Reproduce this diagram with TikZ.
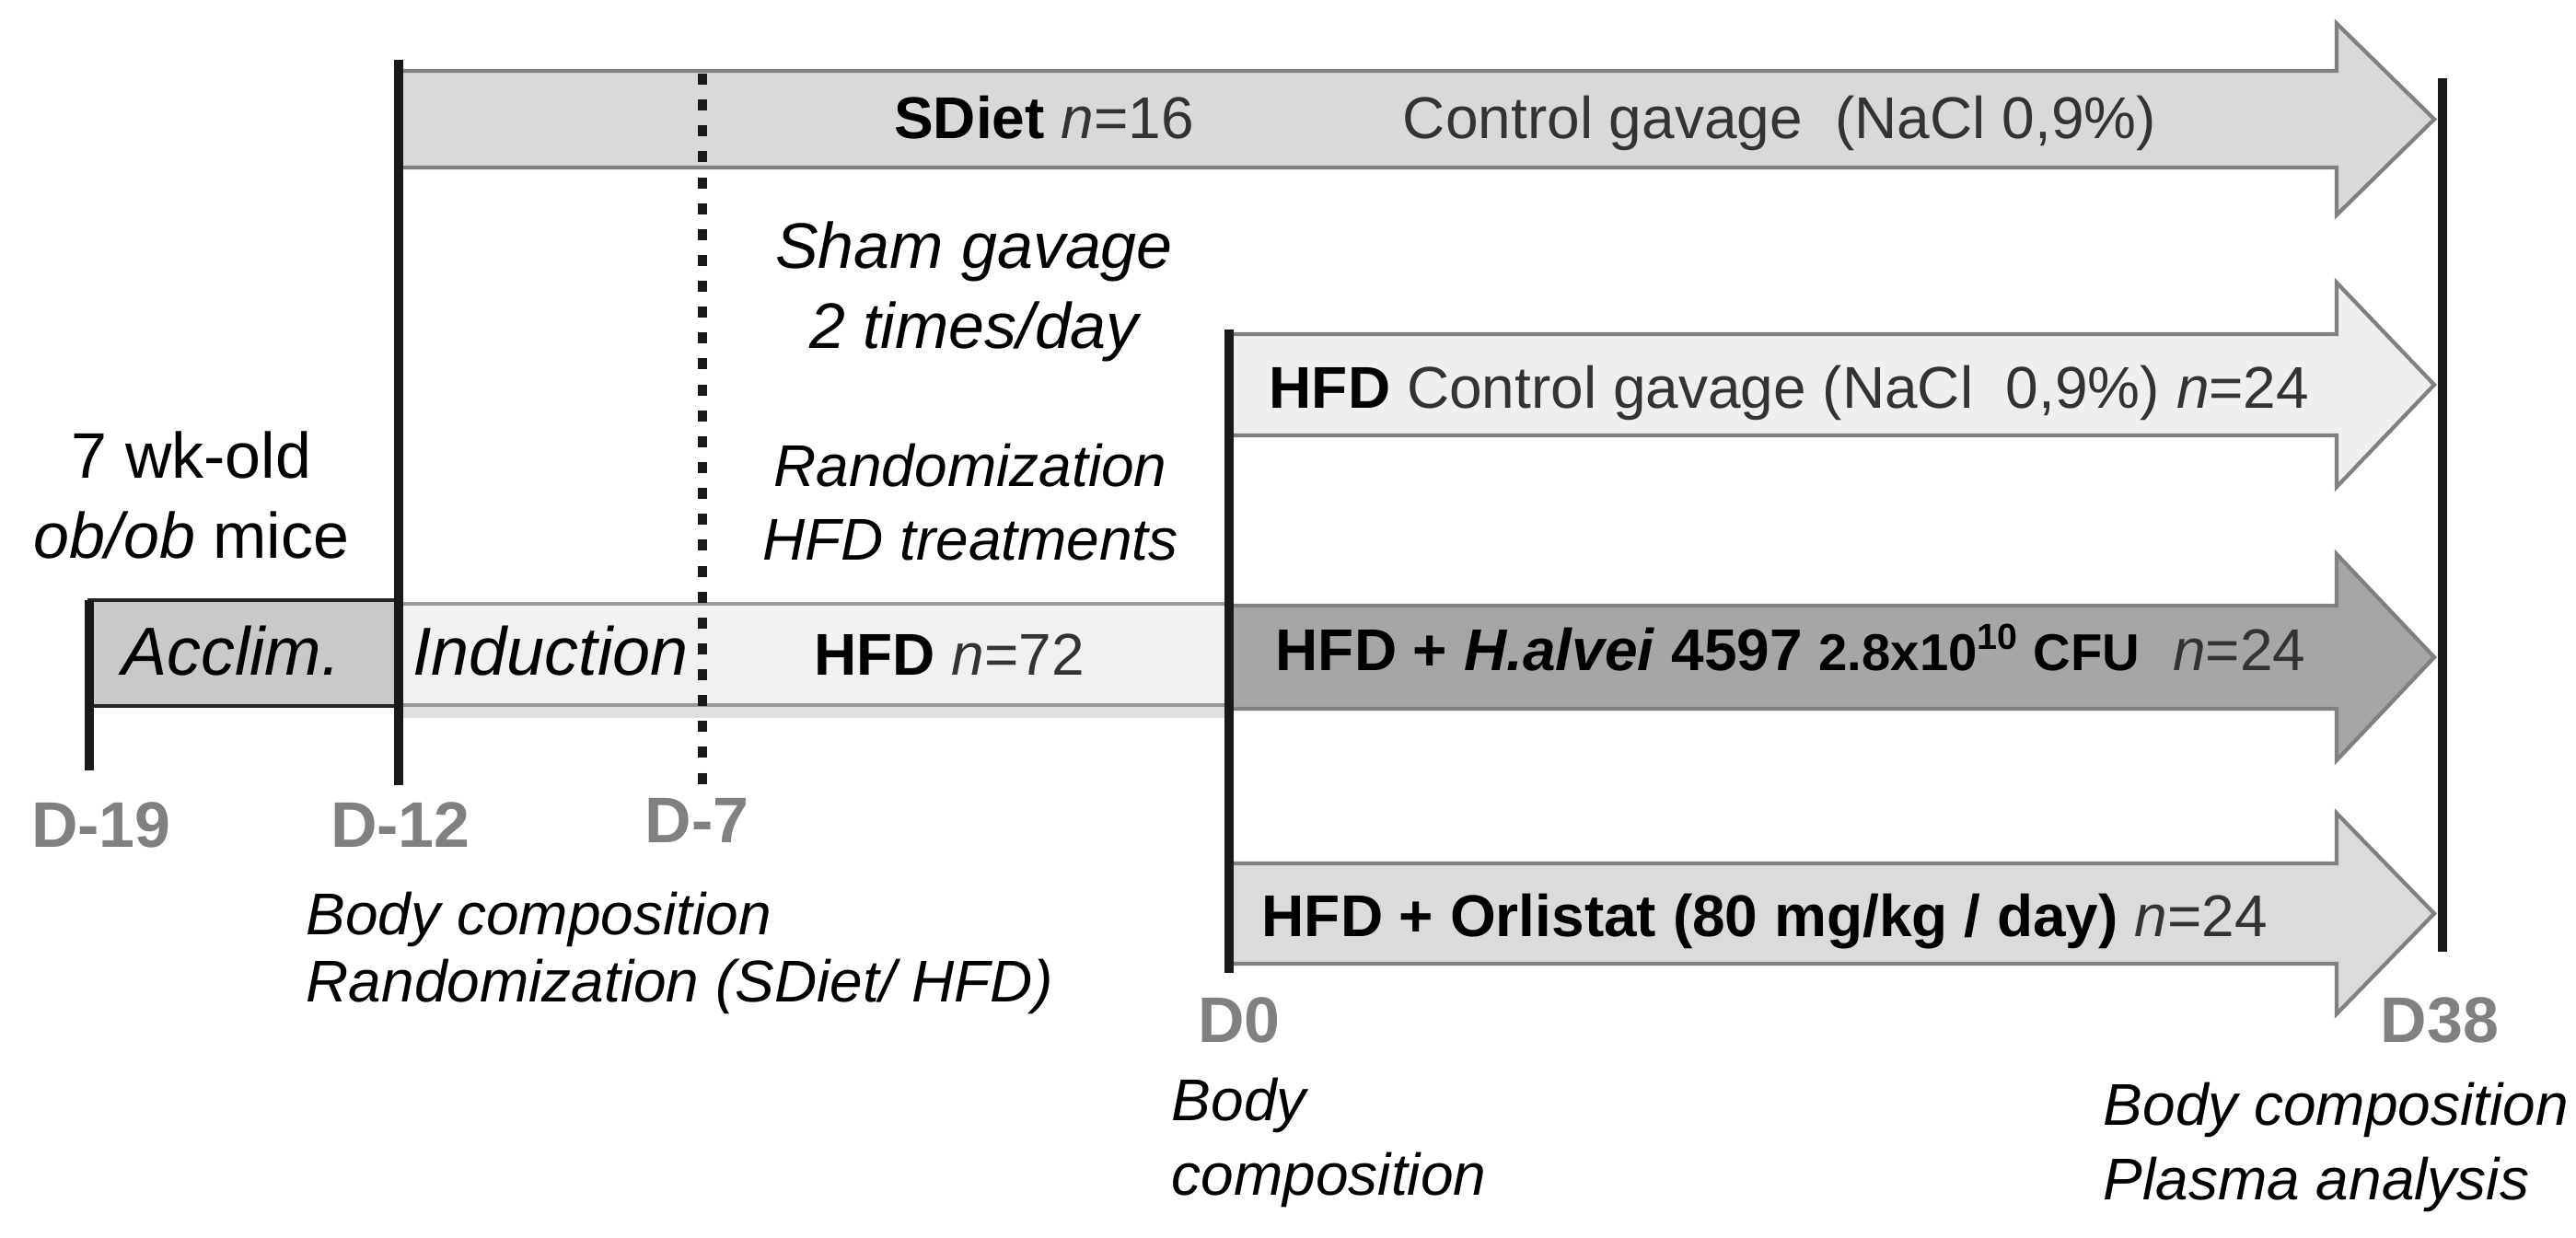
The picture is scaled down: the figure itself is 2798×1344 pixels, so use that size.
\documentclass[tikz,border=0pt]{standalone}
\usepackage{fontspec}
\setmainfont{Liberation Sans}

\definecolor{sdietfill}{HTML}{D9D9D9}
\definecolor{ctrlfill}{HTML}{EFEFEF}
\definecolor{alveifill}{HTML}{A6A6A6}
\definecolor{orlifill}{HTML}{DBDBDB}
\definecolor{acclimfill}{HTML}{C9C9C9}
\definecolor{hfdfill}{HTML}{F1F1F1}
\definecolor{rimgray}{HTML}{808080}

% #1 fill, #2 start x, #3 centre y, #4 half body, #5 half head
\newcommand*{\GroupArrow}[5]{%
   \draw[fill=#1, draw=rimgray, line width=1.2pt, line join=miter]
     (#2,#3-#4) -- (2538,#3-#4) -- (2538,#3-#5) -- (2644,#3)
     -- (2538,#3+#5) -- (2538,#3+#4) -- (#2,#3+#4) -- cycle;}

\begin{document}
\begin{tikzpicture}[x=0.01cm, y=-0.01cm,
    timeline/.style={line width=2.8pt, color=black!90},
    daylabel/.style={font=\fontsize{19.9}{24}\selectfont\bfseries, text=black!50, inner sep=0pt, anchor=base},
    bartext/.style={font=\fontsize{21}{25}\selectfont\itshape, inner sep=0pt, anchor=base},
    armtext/.style={font=\fontsize{18.2}{22}\selectfont, text=black!80, inner sep=0pt, anchor=base west},
    remark/.style={font=\fontsize{18.2}{21}\selectfont\itshape, align=left, inner sep=0pt, anchor=north west}]
  \useasboundingbox (0,0) rectangle (2798,1344);

  % group arrows and the common bar
  \GroupArrow{sdietfill}{433}{129.5}{52.5}{104}
  \GroupArrow{ctrlfill}{1335}{418}{55}{111}
  \GroupArrow{alveifill}{1335}{714}{56}{112}
  \GroupArrow{orlifill}{1335}{992.5}{54.5}{109}
  \fill[black!12] (433,766) rectangle (1335,780);
  \draw[fill=hfdfill, draw=black!40, line width=1pt] (433,656) rectangle (1335,766);
  \draw[fill=acclimfill, draw=black!85, line width=1.2pt] (97,652) rectangle (433,767);

  % day marks
  \coordinate (d19a) at (97,652);   \coordinate (d19b) at (97,837);
  \coordinate (d12a) at (433,65);   \coordinate (d12b) at (433,853);
  \coordinate (d7a)  at (763,80);   \coordinate (d7b)  at (763,856);
  \coordinate (d0a)  at (1335,358); \coordinate (d0b)  at (1335,1057);
  \coordinate (d38a) at (2653,85);  \coordinate (d38b) at (2653,1034);
  \draw[timeline] (d19a) -- (d19b);
  \draw[timeline] (d12a) -- (d12b);
  \draw[timeline, dash pattern=on 3.4pt off 4.6pt] (d7a) -- (d7b);
  \draw[timeline] (d0a) -- (d0b);
  \draw[timeline] (d38a) -- (d38b);

  \node[daylabel] (d19) at (110,920) {D-19};
  \node[daylabel] (d12) at (435,920) {D-12};
  \node[daylabel] (d7) at (757,915) {D-7};
  \node[daylabel] (d0) at (1346,1132) {D0};
  \node[daylabel] (d38) at (2650,1132) {D38};

  % texts
  \node[armtext, anchor=base, text=black] (sdiet) at (1134,150) {\textbf{SDiet} \textcolor{black!80}{\textit{n}=16}};
  \node[armtext, anchor=base] (sdietgav) at (1933,150) {Control gavage~ (NaCl 0,9\%)};
  \node[armtext] (hfdctrl) at (1378,443) {\textcolor{black}{\textbf{HFD}} Control gavage (NaCl~ 0,9\%) \textit{n}=24};
  \node[armtext, text=black] (hfdalvei) at (1385,728) {\textbf{HFD + \textit{H.alvei} 4597 {\fontsize{16}{18}\selectfont 2.8x10\textsuperscript{10} CFU}}~ \textcolor{black!80}{\textit{n}=24}};
  \node[armtext, text=black] (hfdorli) at (1370,1017) {\textbf{HFD + Orlistat (80 mg/kg / day)} \textcolor{black!80}{\textit{n}=24}};
  \node[armtext, anchor=base, text=black] (hfd72) at (1031,733) {\textbf{HFD} \textcolor{black!80}{\textit{n}=72}};
  \node[bartext] (acclim) at (251,733) {Acclim.};
  \node[bartext] (induction) at (598,733) {Induction};

  \node[font=\fontsize{19.9}{24.8}\selectfont, align=center, inner sep=0pt] (mice) at (208,538) {7 wk-old\\\textit{ob/ob} mice};
  \node[font=\fontsize{19.9}{24.8}\selectfont\itshape, align=center, inner sep=0pt] (sham) at (1058,317) {Sham gavage\\2 times/day};
  \node[font=\fontsize{18.2}{22.8}\selectfont\itshape, align=center, inner sep=0pt] (randhfd) at (1054,546) {Randomization\\HFD treatments};

  \node[remark] (noted12) at (332,968) {Body composition\\Randomization (SDiet/ HFD)};
  \node[remark, font=\fontsize{18.2}{23}\selectfont\itshape] (noted0) at (1272,1170) {Body\\composition};
  \node[remark, font=\fontsize{18.2}{23}\selectfont\itshape] (noted38) at (2284,1175) {Body composition\\Plasma analysis};
\end{tikzpicture}
\end{document}
